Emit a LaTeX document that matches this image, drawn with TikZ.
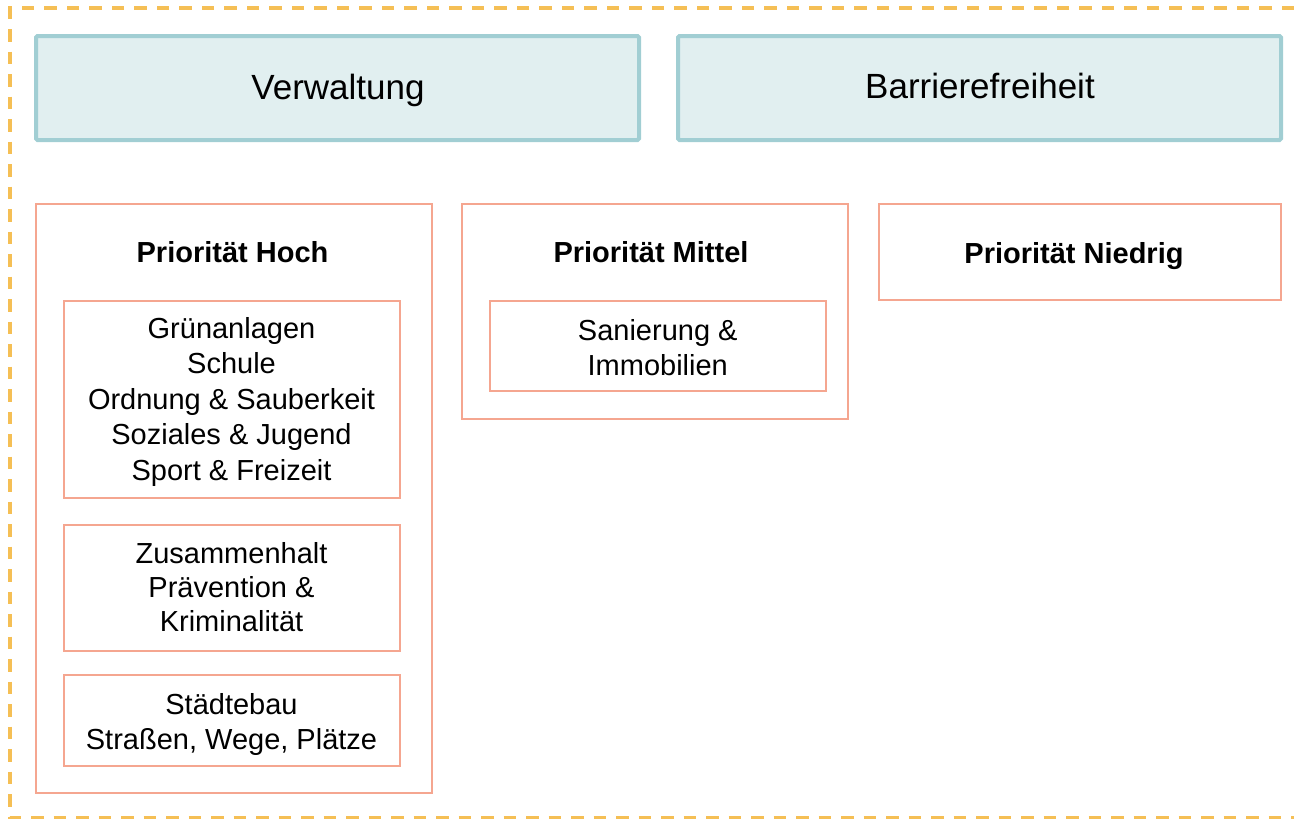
\documentclass[tikz,border=0pt]{standalone}
\usepackage{fontspec}
\setmainfont{Liberation Sans}
\definecolor{dashc}{HTML}{F5BF55}
\definecolor{tealfill}{HTML}{E1EFF0}
\definecolor{tealline}{HTML}{A1CED3}
\definecolor{salmon}{HTML}{F5A690}
\tikzset{
  topbox/.style={draw=tealline, fill=tealfill, line width=4pt, rounded corners=1.5pt, inner sep=0pt},
  groupbox/.style={draw=salmon, line width=2pt, inner sep=0pt},
  topword/.style={inner sep=0pt, anchor=base, font=\fontsize{35}{42}\selectfont},
  itemtext/.style={inner sep=0pt, anchor=base, align=center, font=\fontsize{29}{35.5}\selectfont},
  titletext/.style={inner sep=0pt, anchor=base, font=\fontsize{29}{35}\selectfont\bfseries},
  frameline/.style={draw=dashc, line width=3.5pt, dash pattern=on 12.5pt off 10pt}
}
\begin{document}
\begin{tikzpicture}[x=1pt,y=1pt]
\useasboundingbox (0,0) rectangle (1294,-819);
\coordinate (f1) at (1294,-8);
\coordinate (f2) at (10,-8);
\coordinate (f3) at (10,-818);
\coordinate (f4) at (1294,-818);
\draw[frameline] (f1) -- (f2) -- (f3) -- (f4);

\node[topbox, minimum width=603, minimum height=104] (verw) at (337.5,-88) {};
\node[topbox, minimum width=603, minimum height=104] (barr) at (979.5,-88) {};
\node[topword] (tverw) at (338,-99) {Verwaltung};
\node[topword] (tbarr) at (980,-98) {Barrierefreiheit};

\node[groupbox, minimum width=396, minimum height=589] (hoch) at (234,-498.5) {};
\node[groupbox, minimum width=386.5, minimum height=215.5] (mittel) at (654.75,-311.25) {};
\node[groupbox, minimum width=402, minimum height=96.5] (niedrig) at (1080,-251.75) {};

\node[titletext] (thoch) at (232.5,-262) {Priorität Hoch};
\node[titletext] (tmittel) at (651,-262) {Priorität Mittel};
\node[titletext] (tniedrig) at (1074,-263) {Priorität Niedrig};

\node[groupbox, minimum width=336, minimum height=197] (gruen) at (231.5,-399.5) {};
\node[groupbox, minimum width=336, minimum height=126] (zus) at (231.5,-587.5) {};
\node[groupbox, minimum width=336, minimum height=90.5] (staedte) at (231.5,-720.25) {};
\node[groupbox, minimum width=335.5, minimum height=90] (san) at (657.75,-346) {};

\node[itemtext] (tgruen) at (231.5,-480) {Grünanlagen\\Schule\\Ordnung \& Sauberkeit\\Soziales \& Jugend\\Sport \& Freizeit};
\node[itemtext, font=\fontsize{29}{34.2}\selectfont] (tzus) at (231.5,-631.7) {Zusammenhalt\\Prävention \&\\Kriminalität};
\node[itemtext] (tstaedte) at (231.5,-749.8) {Städtebau\\Straßen, Wege, Plätze};
\node[itemtext, font=\fontsize{29}{35}\selectfont] (tsan) at (657.75,-375) {Sanierung \&\\Immobilien};
\end{tikzpicture}
\end{document}
